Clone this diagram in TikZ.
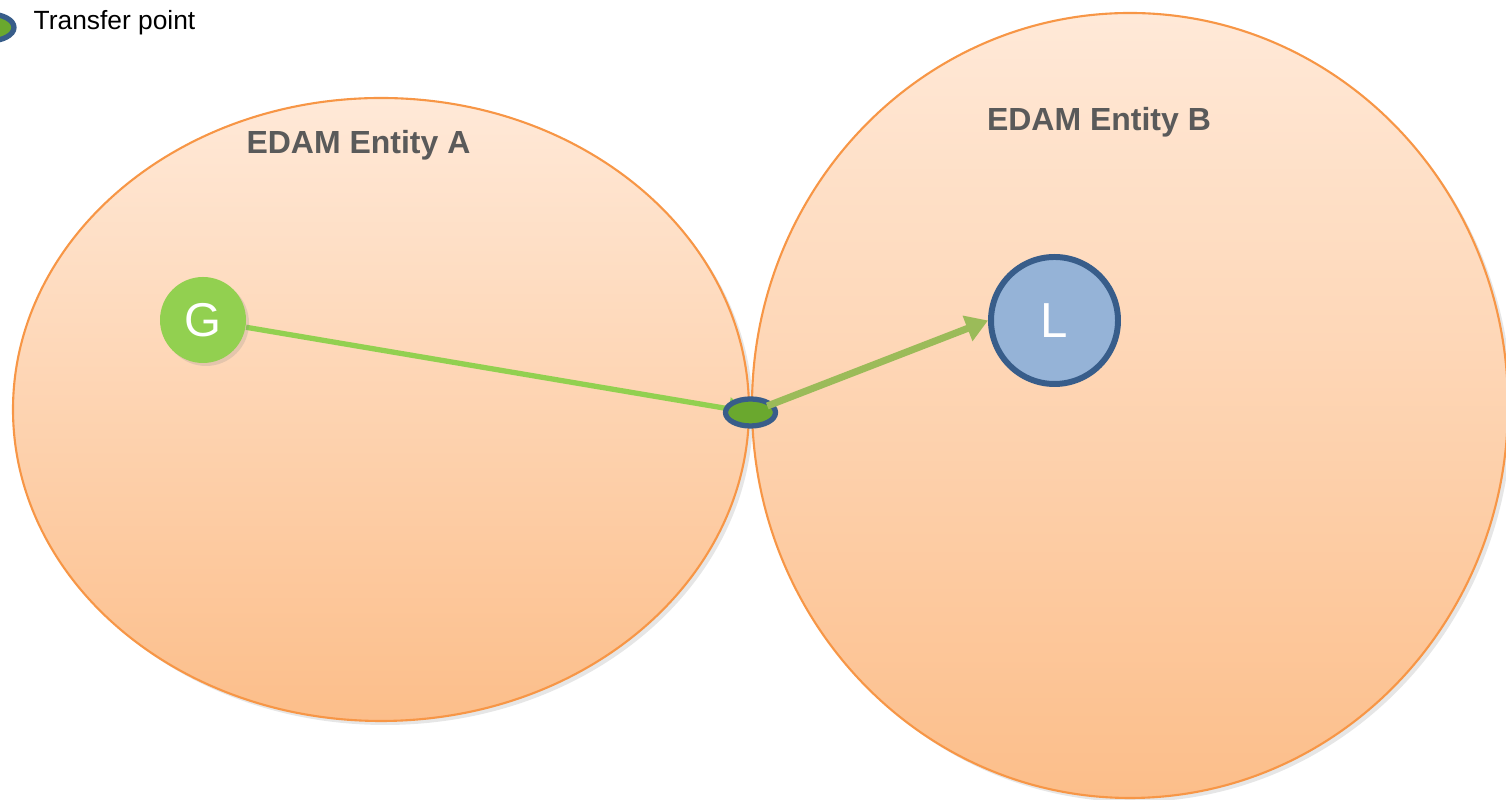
\documentclass[tikz,border=0pt]{standalone}
\usepackage{fontspec}
\setmainfont{Liberation Sans}
\usepackage{tikz}
\usetikzlibrary{arrows.meta,shapes.geometric,positioning,shadows}
\definecolor{entEdge}{RGB}{247,150,70}
\definecolor{entTop}{RGB}{255,233,216}
\definecolor{entBot}{RGB}{252,190,138}
\definecolor{genFill}{RGB}{146,208,80}
\definecolor{locFill}{RGB}{149,179,215}
\definecolor{locEdge}{RGB}{56,93,138}
\definecolor{tpFill}{RGB}{106,168,46}
\definecolor{linkA}{RGB}{146,208,80}
\definecolor{linkB}{RGB}{155,187,89}
\definecolor{labelGray}{RGB}{90,90,90}
\pgfdeclarelayer{background}
\pgfdeclarelayer{links}
\pgfsetlayers{background,links,main}

\begin{document}
\begin{tikzpicture}[
        entity/.style={ellipse, draw=entEdge, line width=0.6pt, top color=entTop, bottom color=entBot, inner sep=0pt, drop shadow={opacity=0.2, shadow xshift=0.04cm, shadow yshift=-0.04cm}},
        entlabel/.style={font=\fontsize{9.1}{11}\selectfont\bfseries, text=labelGray},
        gen/.style={circle, fill=genFill, minimum size=0.86cm, inner sep=0pt, text=white, font=\fontsize{13.5}{15}\selectfont, drop shadow={opacity=0.2, shadow xshift=0.03cm, shadow yshift=-0.03cm}},
        loc/.style={circle, draw=locEdge, line width=1.7pt, fill=locFill, minimum size=1.27cm, inner sep=0pt, text=white, font=\fontsize{14}{16}\selectfont},
        tpoint/.style={ellipse, draw=locEdge, line width=1.5pt, fill=tpFill, minimum width=0.50cm, minimum height=0.27cm, inner sep=0pt},
        linka/.style={linkA, line width=1.5pt, -{Triangle[length=0.2cm, width=0.22cm]}},
        linkb/.style={linkB, line width=2pt, -{Triangle[length=0.22cm, width=0.26cm]}},
    ]
    \useasboundingbox (0,0) rectangle (15.06,8);

    % Entities
    \begin{pgfonlayer}{background}
    \node[entity, minimum width=7.36cm, minimum height=6.23cm] (entA) at (3.81,3.905) {};
    \node[entity, minimum width=7.56cm, minimum height=7.85cm] (entB) at (11.30,3.945) {};
    \end{pgfonlayer}
    \node[entlabel] (labA) at (3.585,6.55) {EDAM Entity A};
    \node[entlabel] (labB) at (10.99,6.78) {EDAM Entity B};

    % Legend
    \node[tpoint] (legtp) at (-0.11,7.725) {};
    \node[anchor=base west, inner sep=0pt, font=\fontsize{7.5}{9}\selectfont] (legtext) at (0.33,7.70) {Transfer point};

    % G, L and the transfer point
    \node[gen] (G) at (2.03,4.80) {G};
    \node[loc] (L) at (10.545,4.795) {L};
    \node[tpoint] (tp) at (7.505,3.875) {};

    % Links
    \begin{pgfonlayer}{links}
    \draw[linka, shorten >=0.02cm] (G) -- (tp.center);
    \end{pgfonlayer}
    \draw[linkb, shorten <=0.18cm] (tp.center) -- (L.west);

\end{tikzpicture}
\end{document}
